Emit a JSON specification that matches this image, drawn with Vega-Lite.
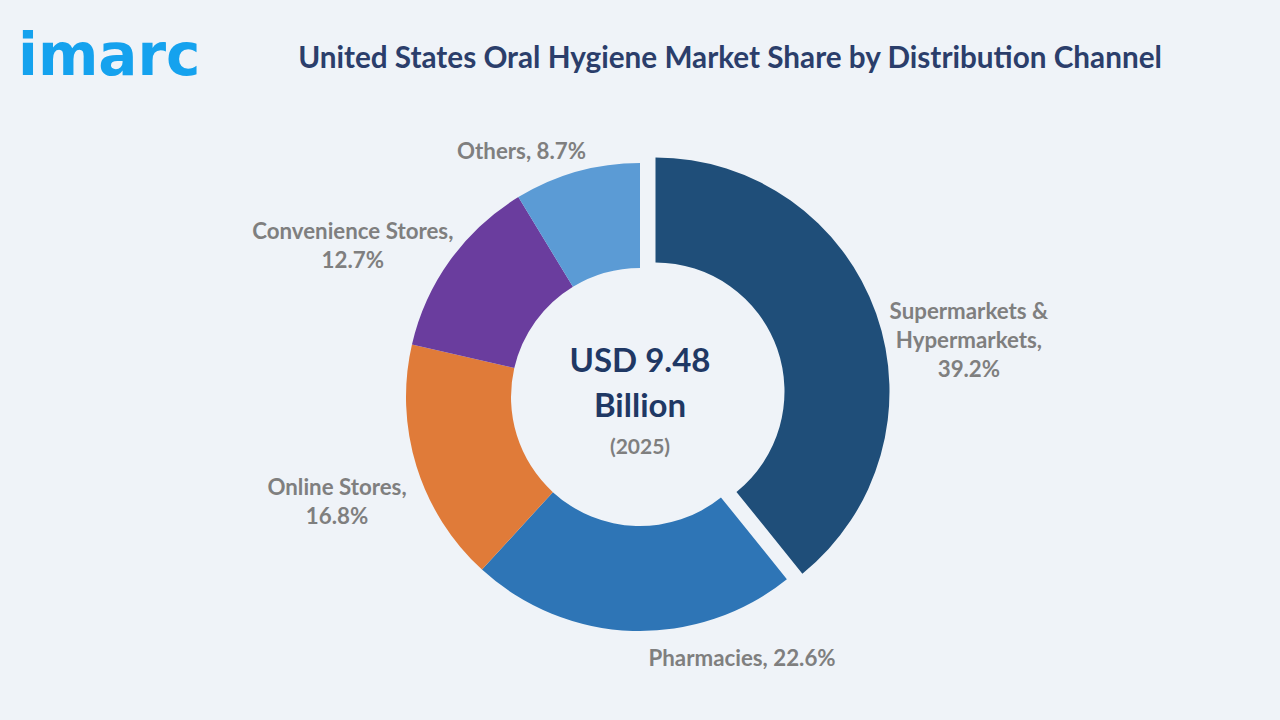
{
  "$schema": "https://vega.github.io/schema/vega-lite/v6.json",
  "width": 1280,
  "height": 646,
  "autosize": {"type": "none"},
  "padding": {"top": 74, "left": 0, "right": 0, "bottom": 0},
  "background": "#eff3f8",
  "config": {"view": {"stroke": null}, "font": "Lato"},
  "title": {
    "text": "United States Oral Hygiene Market Share by Distribution Channel",
    "anchor": "middle",
    "frame": "group",
    "dx": 90,
    "dy": 52,
    "offset": 6,
    "font": "Lato",
    "fontSize": 29.7,
    "fontWeight": "bold",
    "color": "#2b3e6b"
  },
  "data": {
    "values": [
      {"idx": 1, "channel": "Supermarkets & Hypermarkets", "share": 39.2, "label": "Supermarkets &\nHypermarkets,\n39.2%"},
      {"idx": 2, "channel": "Pharmacies", "share": 22.6, "label": "Pharmacies, 22.6%"},
      {"idx": 3, "channel": "Online Stores", "share": 16.8, "label": "Online Stores,\n16.8%"},
      {"idx": 4, "channel": "Convenience Stores", "share": 12.7, "label": "Convenience Stores,\n12.7%"},
      {"idx": 5, "channel": "Others", "share": 8.7, "label": "Others, 8.7%"}
    ]
  },
  "layer": [
    {
      "transform": [
        {"stack": "share", "groupby": [], "sort": [{"field": "idx", "order": "ascending"}], "as": ["start", "end"]},
        {"filter": "datum.idx !== 1"}
      ],
      "mark": {"type": "arc", "innerRadius": 129, "outerRadius": 234},
      "encoding": {
        "theta": {"field": "start", "type": "quantitative", "stack": null, "scale": {"domain": [0, 100]}},
        "theta2": {"field": "end"},
        "color": {
          "field": "channel", "type": "nominal", "legend": null,
          "scale": {
            "domain": ["Supermarkets & Hypermarkets", "Pharmacies", "Online Stores", "Convenience Stores", "Others"],
            "range": ["#1f4e79", "#2e75b6", "#e07b39", "#6a3d9e", "#5b9bd5"]
          }
        }
      }
    },
    {
      "transform": [
        {"stack": "share", "groupby": [], "sort": [{"field": "idx", "order": "ascending"}], "as": ["start", "end"]},
        {"filter": "datum.idx === 1"}
      ],
      "mark": {"type": "arc", "innerRadius": 129, "outerRadius": 234, "xOffset": 15.5, "yOffset": -5.5},
      "encoding": {
        "theta": {"field": "start", "type": "quantitative", "stack": null, "scale": {"domain": [0, 100]}},
        "theta2": {"field": "end"},
        "color": {"field": "channel", "type": "nominal", "legend": null}
      }
    },
    {
      "mark": {"type": "text", "radius": 300, "dx": 46, "dy": 15, "align": "center", "baseline": "middle", "lineBreak": "\n", "lineHeight": 29, "font": "Lato", "fontSize": 22.3, "fontWeight": "bold", "color": "#7f7f7f"},
      "encoding": {
        "theta": {"field": "share", "type": "quantitative", "stack": true, "scale": {"domain": [0, 100]}},
        "order": {"field": "idx", "type": "quantitative"},
        "detail": {"field": "channel"},
        "text": {"condition": {"test": "datum.idx === 1", "field": "label", "type": "nominal"}, "value": ""}
      }
    },
    {
      "mark": {"type": "text", "radius": 300, "dx": 111.5, "dy": -38, "align": "center", "baseline": "middle", "lineBreak": "\n", "lineHeight": 29, "font": "Lato", "fontSize": 22.3, "fontWeight": "bold", "color": "#7f7f7f"},
      "encoding": {
        "theta": {"field": "share", "type": "quantitative", "stack": true, "scale": {"domain": [0, 100]}},
        "order": {"field": "idx", "type": "quantitative"},
        "detail": {"field": "channel"},
        "text": {"condition": {"test": "datum.idx === 2", "field": "label", "type": "nominal"}, "value": ""}
      }
    },
    {
      "mark": {"type": "text", "radius": 300, "dx": -16.5, "dy": 1.5, "align": "center", "baseline": "middle", "lineBreak": "\n", "lineHeight": 29, "font": "Lato", "fontSize": 22.3, "fontWeight": "bold", "color": "#7f7f7f"},
      "encoding": {
        "theta": {"field": "share", "type": "quantitative", "stack": true, "scale": {"domain": [0, 100]}},
        "order": {"field": "idx", "type": "quantitative"},
        "detail": {"field": "channel"},
        "text": {"condition": {"test": "datum.idx === 3", "field": "label", "type": "nominal"}, "value": ""}
      }
    },
    {
      "mark": {"type": "text", "radius": 300, "dx": -44, "dy": 11, "align": "center", "baseline": "middle", "lineBreak": "\n", "lineHeight": 29, "font": "Lato", "fontSize": 22.3, "fontWeight": "bold", "color": "#7f7f7f"},
      "encoding": {
        "theta": {"field": "share", "type": "quantitative", "stack": true, "scale": {"domain": [0, 100]}},
        "order": {"field": "idx", "type": "quantitative"},
        "detail": {"field": "channel"},
        "text": {"condition": {"test": "datum.idx === 4", "field": "label", "type": "nominal"}, "value": ""}
      }
    },
    {
      "mark": {"type": "text", "radius": 300, "dx": -37.5, "dy": 44, "align": "center", "baseline": "middle", "lineBreak": "\n", "lineHeight": 29, "font": "Lato", "fontSize": 22.3, "fontWeight": "bold", "color": "#7f7f7f"},
      "encoding": {
        "theta": {"field": "share", "type": "quantitative", "stack": true, "scale": {"domain": [0, 100]}},
        "order": {"field": "idx", "type": "quantitative"},
        "detail": {"field": "channel"},
        "text": {"condition": {"test": "datum.idx === 5", "field": "label", "type": "nominal"}, "value": ""}
      }
    },
    {
      "data": {"values": [{"t": "USD 9.48"}]},
      "mark": {"type": "text", "align": "center", "baseline": "alphabetic", "dy": -25, "font": "Lato", "fontSize": 33, "fontWeight": "bold", "color": "#1f3864"},
      "encoding": {"text": {"field": "t"}}
    },
    {
      "data": {"values": [{"t": "Billion"}]},
      "mark": {"type": "text", "align": "center", "baseline": "alphabetic", "dy": 20, "font": "Lato", "fontSize": 33, "fontWeight": "bold", "color": "#1f3864"},
      "encoding": {"text": {"field": "t"}}
    },
    {
      "data": {"values": [{"t": "(2025)"}]},
      "mark": {"type": "text", "align": "center", "baseline": "alphabetic", "dy": 57, "font": "Lato", "fontSize": 21, "fontWeight": "bold", "color": "#7f7f7f"},
      "encoding": {"text": {"field": "t"}}
    },
    {
      "data": {"values": [{"t": "imarc"}]},
      "mark": {"type": "text", "align": "left", "baseline": "alphabetic", "x": 18, "y": 1, "font": "DejaVu Sans", "fontSize": 58, "fontWeight": "bold", "color": "#15a2ee"},
      "encoding": {"text": {"field": "t"}}
    }
  ]
}
